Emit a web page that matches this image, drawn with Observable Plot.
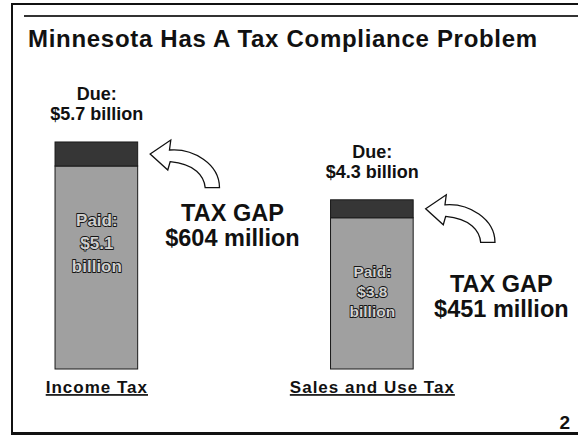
<!DOCTYPE html>
<html>
<head>
<meta charset="utf-8">
<script src="https://cdn.jsdelivr.net/npm/d3@7"></script>
<script src="https://cdn.jsdelivr.net/npm/@observablehq/plot@0.6"></script>
<style>
  body { margin: 0; background: #fff; }
  #slide { position: relative; width: 578px; height: 437px; overflow: hidden;
           font-family: "Liberation Sans", Arial, Helvetica, sans-serif; color: #111; background: #fff; }
  .line { position: absolute; background: #111; }
  #title { position: absolute; left: 28px; top: 27px; margin: 0; font-size: 24px; line-height: 24px;
           font-weight: bold; letter-spacing: 0.7px; white-space: nowrap; }
  #page { position: absolute; right: 8px; top: 413px; font-size: 19px; line-height: 19px; font-weight: bold; }
  #chart { position: absolute; left: 0; top: 60px; }
</style>
</head>
<body>
<div id="slide">
  <div class="line" style="left:11px;top:3px;width:567px;height:2px"></div>
  <div class="line" style="left:24px;top:15px;width:554px;height:1.5px;background:#333"></div>
  <div class="line" style="left:11px;top:3px;width:2px;height:432px"></div>
  <div class="line" style="left:11px;top:432px;width:567px;height:2.5px"></div>
  <h1 id="title">Minnesota Has A Tax Compliance Problem</h1>
  <div id="chart"></div>
  <div id="page">2</div>
</div>
<script>
// ---- data ----
const categories = ["Income Tax", "Sales and Use Tax"];
const paid = [5.1, 3.8];            // $ billion
const gap = [0.604, 0.451];         // $ billion
const dueLabels = ["$5.7 billion", "$4.3 billion"];
const paidLabels = ["$5.1", "$3.8"];
const gapLabels = ["$604 million", "$451 million"];
const parts = ["Paid", "Gap"];

// table for the library
const rows = categories.flatMap((tax, i) => [
  {tax, part: "Paid", value: paid[i]},
  {tax, part: "Gap", value: gap[i]}
]);
const tops = categories.map((tax, i) => ({
  tax, paid: paid[i], gap: gap[i], top: paid[i] + gap[i],
  due: dueLabels[i], paidLabel: paidLabels[i], gapLabel: gapLabels[i]
}));

const font = `"Liberation Sans", Arial, Helvetica, sans-serif`;

// curved block arrow, tip at origin, pointing left
const arrowPath = "M0,0 L20.6,-14 L19.3,-4 C43,-6 69.3,10 69.3,33.6 L55,33.6 C54,22 45,10 20,7.6 L17.6,16 Z";

function arrows(index, scales) {
  const x = scales.x, y = scales.y;
  const bw = x.bandwidth ? x.bandwidth() : 0;
  const g = d3.create("svg:g").attr("aria-label", "arrows");
  g.selectAll("path").data(tops).join("path")
    .attr("transform", d => `translate(${x(d.tax) + bw + 12.5},${y(d.paid + d.gap / 2)})`)
    .attr("d", arrowPath)
    .attr("fill", "#fff")
    .attr("stroke", "#111")
    .attr("stroke-width", 1.3)
    .attr("stroke-linejoin", "miter");
  return g.node();
}

const one = (i) => tops.filter((d, j) => j === i);

const paidText = (i, fontSize, lh, dy) => Plot.text(one(i), {
  x: "tax", y: "paid", text: d => `Paid:\n${d.paidLabel}\nbillion`,
  lineAnchor: "top", lineHeight: lh / fontSize, dy, fontSize, fontWeight: "bold",
  fill: "#d0d0d0", stroke: "#151515", strokeWidth: 1.8
});

const gapText = (i, lh, dx, dy) => Plot.text(one(i), {
  x: "tax", y: "top", text: d => `TAX GAP\n${d.gapLabel}`,
  lineAnchor: "top", lineHeight: lh / 23.5, dx, dy, fontSize: 23.5, fontWeight: "bold", fill: "#111"
});

const chart = Plot.plot({
  width: 578,
  height: 377,
  marginLeft: 13.7,
  marginRight: 123.5,
  marginTop: 30.4,
  marginBottom: 68,
  x: {domain: categories, paddingInner: 0.7, paddingOuter: 0.15, round: false, label: null},
  y: {domain: [0, 7], axis: null},
  color: {domain: parts, range: ["#a0a0a0", "#363636"]},
  style: {fontFamily: font, background: "transparent", overflow: "visible", color: "#111"},
  marks: [
    Plot.barY(rows, {x: "tax", y: "value", fill: "part", stroke: "#1a1a1a", strokeWidth: 1}),
    Plot.axisX({tickSize: 0, tickPadding: 11.5, fontSize: 17, fontWeight: "bold", label: null}),
    Plot.text(tops, {
      x: "tax", y: "top", text: d => `Due:\n${d.due}`,
      lineAnchor: "bottom", lineHeight: 20 / 18, dy: -22, fontSize: 18, fontWeight: "bold", fill: "#111"
    }),
    paidText(0, 17, 23, 42.7),
    paidText(1, 15.5, 20, 45),
    gapText(0, 25, 135.6, 60.3),
    gapText(1, 25, 129, 73.5),
    arrows
  ]
});

d3.select(chart).selectAll('g[aria-label="x-axis tick label"] text')
  .style("text-decoration", "underline")
  .style("letter-spacing", "1px");

document.getElementById("chart").appendChild(chart);
</script>
</body>
</html>
